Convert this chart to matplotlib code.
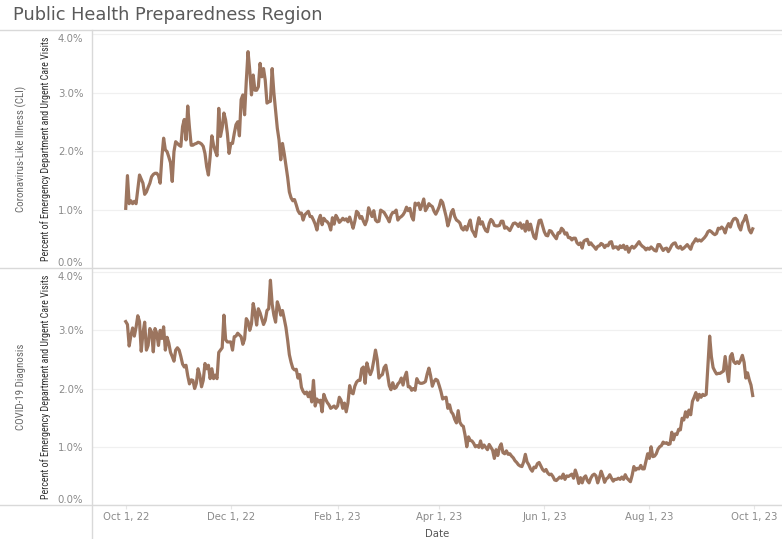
import pandas as pd
import matplotlib.pyplot as plt
import matplotlib.dates as mdates
from matplotlib.lines import Line2D
from matplotlib.ticker import FuncFormatter

# daily percent of ED / urgent care visits, Oct 1 2022 onward
start_date = "2022-10-01"
cli = [
    1.02, 1.58, 1.10, 1.15, 1.10, 1.14, 1.10, 1.35, 1.59, 1.52,
    1.45, 1.26, 1.30, 1.38, 1.45, 1.56, 1.60, 1.62, 1.62, 1.58,
    1.45, 1.90, 2.22, 2.02, 1.99, 1.90, 1.80, 1.48, 1.99, 2.16,
    2.13, 2.10, 2.08, 2.42, 2.54, 2.19, 2.77, 2.40, 2.10, 2.10,
    2.12, 2.13, 2.15, 2.14, 2.12, 2.08, 1.96, 1.73, 1.59, 1.90,
    2.26, 2.10, 2.00, 1.92, 2.73, 2.25, 2.40, 2.65, 2.53, 2.30,
    1.96, 2.13, 2.13, 2.30, 2.45, 2.50, 2.26, 2.88, 2.96, 2.62,
    3.20, 3.70, 3.38, 2.96, 3.30, 3.04, 3.04, 3.10, 3.50, 3.27,
    3.41, 3.21, 2.82, 2.84, 2.85, 3.41, 3.00, 2.70, 2.39, 2.19,
    1.85, 2.13, 1.96, 1.75, 1.55, 1.30, 1.20, 1.15, 1.17, 1.08,
    0.98, 0.93, 0.94, 0.82, 0.91, 0.94, 0.97, 0.88, 0.88, 0.82,
    0.75, 0.65, 0.82, 0.90, 0.74, 0.85, 0.81, 0.79, 0.75, 0.65,
    0.86, 0.75, 0.90, 0.85, 0.78, 0.81, 0.85, 0.82, 0.84, 0.79,
    0.87, 0.78, 0.68, 0.80, 0.97, 0.94, 0.85, 0.88, 0.80, 0.74,
    0.82, 1.03, 0.95, 0.88, 0.98, 0.82, 0.79, 0.80, 0.99, 0.97,
    0.95, 0.90, 0.85, 0.79, 0.90, 0.95, 0.95, 0.99, 0.82, 0.86,
    0.88, 0.91, 0.96, 1.04, 0.98, 1.02, 0.88, 0.82, 1.11, 1.08,
    1.11, 1.00, 1.08, 1.18, 0.98, 1.03, 1.10, 1.07, 1.05, 0.97,
    0.92, 0.98, 1.05, 1.16, 1.12, 1.00, 0.88, 0.72, 0.82, 0.95,
    1.00, 0.88, 0.82, 0.80, 0.77, 0.68, 0.65, 0.71, 0.65, 0.74,
    0.82, 0.65, 0.60, 0.54, 0.72, 0.86, 0.75, 0.79, 0.70, 0.64,
    0.62, 0.76, 0.83, 0.80, 0.73, 0.72, 0.72, 0.73, 0.80, 0.80,
    0.68, 0.70, 0.67, 0.64, 0.70, 0.76, 0.77, 0.75, 0.71, 0.77,
    0.68, 0.74, 0.63, 0.80, 0.65, 0.75, 0.63, 0.53, 0.50, 0.68,
    0.81, 0.82, 0.72, 0.62, 0.56, 0.55, 0.64, 0.63, 0.58, 0.54,
    0.50, 0.60, 0.60, 0.68, 0.65, 0.58, 0.60, 0.52, 0.52, 0.48,
    0.51, 0.51, 0.43, 0.40, 0.43, 0.34, 0.46, 0.48, 0.49, 0.40,
    0.43, 0.39, 0.36, 0.32, 0.37, 0.38, 0.42, 0.40, 0.35, 0.39,
    0.38, 0.44, 0.45, 0.34, 0.36, 0.36, 0.32, 0.38, 0.35, 0.39,
    0.32, 0.37, 0.27, 0.34, 0.37, 0.34, 0.37, 0.41, 0.45, 0.40,
    0.37, 0.35, 0.31, 0.34, 0.32, 0.36, 0.33, 0.30, 0.29, 0.40,
    0.40, 0.35, 0.30, 0.33, 0.34, 0.28, 0.33, 0.39, 0.42, 0.43,
    0.36, 0.34, 0.37, 0.32, 0.34, 0.37, 0.40, 0.36, 0.32, 0.41,
    0.45, 0.50, 0.46, 0.48, 0.46, 0.49, 0.52, 0.56, 0.62, 0.64,
    0.62, 0.59, 0.57, 0.59, 0.68, 0.67, 0.70, 0.67, 0.60, 0.70,
    0.76, 0.70, 0.79, 0.84, 0.85, 0.82, 0.71, 0.65, 0.77, 0.82,
    0.90, 0.78, 0.65, 0.60, 0.67,
]
covid = [
    3.15, 3.10, 2.73, 2.91, 3.04, 2.90, 3.05, 3.25, 3.15, 2.64,
    2.95, 3.14, 2.66, 2.74, 3.03, 2.97, 2.63, 3.03, 2.95, 2.74,
    3.00, 2.86, 3.06, 2.66, 2.88, 2.78, 2.62, 2.55, 2.47, 2.66,
    2.70, 2.66, 2.55, 2.42, 2.37, 2.40, 2.22, 2.08, 2.15, 2.14,
    2.00, 2.09, 2.34, 2.23, 2.03, 2.14, 2.43, 2.34, 2.40, 2.17,
    2.34, 2.17, 2.23, 2.17, 2.62, 2.66, 2.70, 3.26, 2.84, 2.80,
    2.80, 2.80, 2.66, 2.89, 2.90, 2.95, 2.92, 2.89, 2.76, 2.85,
    3.20, 3.15, 3.00, 3.11, 3.46, 3.31, 3.09, 3.37, 3.30, 3.20,
    3.10, 3.17, 3.34, 3.37, 3.86, 3.45, 3.26, 3.14, 3.49, 3.40,
    3.26, 3.34, 3.20, 3.05, 2.83, 2.58, 2.45, 2.35, 2.32, 2.33,
    2.18, 2.24, 2.02, 1.95, 1.91, 1.94, 1.86, 1.94, 1.77, 2.14,
    1.70, 1.82, 1.77, 1.80, 1.60, 1.90, 1.82, 1.76, 1.72, 1.66,
    1.68, 1.70, 1.66, 1.70, 1.85, 1.80, 1.66, 1.75, 1.60, 1.75,
    2.05, 1.93, 1.91, 2.04, 2.11, 2.14, 2.14, 2.34, 2.37, 2.09,
    2.44, 2.32, 2.24, 2.32, 2.48, 2.66, 2.50, 2.18, 2.22, 2.24,
    2.36, 2.40, 2.24, 2.05, 1.98, 2.10, 2.00, 2.02, 2.08, 2.11,
    2.18, 2.06, 2.20, 2.28, 2.03, 2.03, 1.97, 2.00, 1.97, 2.17,
    2.11, 2.09, 2.09, 2.10, 2.12, 2.25, 2.35, 2.22, 2.04, 2.12,
    2.16, 2.14, 2.05, 1.95, 1.82, 1.84, 1.85, 1.66, 1.72, 1.60,
    1.56, 1.47, 1.41, 1.62, 1.42, 1.37, 1.35, 1.20, 1.00, 1.17,
    1.11, 1.10, 1.06, 1.00, 1.02, 0.99, 1.10, 0.98, 1.03, 0.99,
    0.95, 1.04, 0.99, 0.94, 0.80, 0.95, 0.85, 0.99, 1.05, 0.90,
    0.88, 0.93, 0.87, 0.88, 0.84, 0.81, 0.76, 0.73, 0.69, 0.67,
    0.66, 0.74, 0.87, 0.74, 0.69, 0.62, 0.58, 0.65, 0.64, 0.71,
    0.73, 0.67, 0.61, 0.58, 0.61, 0.55, 0.52, 0.53, 0.49, 0.43,
    0.42, 0.45, 0.48, 0.46, 0.53, 0.44, 0.50, 0.49, 0.51, 0.53,
    0.46, 0.60, 0.51, 0.37, 0.47, 0.38, 0.47, 0.50, 0.42, 0.38,
    0.46, 0.51, 0.53, 0.50, 0.38, 0.47, 0.58, 0.50, 0.39, 0.45,
    0.47, 0.52, 0.46, 0.41, 0.44, 0.44, 0.46, 0.44, 0.48, 0.44,
    0.52, 0.46, 0.43, 0.40, 0.51, 0.66, 0.60, 0.63, 0.62, 0.68,
    0.62, 0.62, 0.75, 0.88, 0.80, 1.00, 0.83, 0.84, 0.88, 0.96,
    1.00, 1.02, 1.08, 1.06, 1.07, 1.04, 1.05, 1.25, 1.12, 1.22,
    1.21, 1.30, 1.29, 1.49, 1.46, 1.60, 1.51, 1.63, 1.55, 1.78,
    1.85, 1.93, 1.80, 1.90, 1.85, 1.90, 1.88, 1.90, 2.40, 2.90,
    2.55, 2.36, 2.30, 2.25, 2.26, 2.26, 2.28, 2.30, 2.55, 2.32,
    2.12, 2.55, 2.60, 2.46, 2.43, 2.46, 2.43, 2.49, 2.57, 2.45,
    2.18, 2.27, 2.15, 2.06, 1.88,
]
row_labels = ["Coronavirus-Like Illness (CLI)", "COVID-19 Diagnosis"]
axis_title = "Percent of Emergency Department and Urgent Care Visits"
y_ticks = [0, 1, 2, 3, 4]
x_ticks = ["2022-10-01", "2022-12-01", "2023-02-01", "2023-04-01",
           "2023-06-01", "2023-08-01", "2023-10-01"]

W, H = 782, 539
fig = plt.figure(figsize=(W / 100, H / 100), dpi=100)
fig.patch.set_facecolor("white")

def fx(px):
    return px / W

def fy(py):
    return 1 - py / H

line_color = "#9c755f"
border_color = "#d9d9d9"
narrow = ["Roboto Condensed", "Barlow Condensed", "Archivo Narrow", "DejaVu Sans"]

panel_tops = [30, 268]
panel_bottoms = [268, 505]
series = [cli, covid]

for i in range(2):
    dates = pd.date_range(start_date, periods=len(series[i]), freq="D")
    ax = fig.add_axes([fx(93), fy(panel_bottoms[i]), fx(782) - fx(93),
                       (panel_bottoms[i] - panel_tops[i]) / H])
    ax.plot(dates, series[i], color=line_color, lw=2.3, solid_joinstyle="round")
    ax.set_ylim(0, 4.07)
    ax.set_xlim(pd.Timestamp("2022-09-12"), pd.Timestamp("2023-10-17"))
    for s in ax.spines.values():
        s.set_visible(False)
    ax.set_yticks(y_ticks)
    ax.yaxis.set_major_formatter(FuncFormatter(lambda v, p: f"{v:.1f}%"))
    ax.tick_params(axis="y", length=0, pad=7, labelsize=7.3, labelcolor="#8a8a8a")
    labels = ax.get_yticklabels()
    labels[0].set_verticalalignment("bottom")
    labels[-1].set_verticalalignment("top")
    ax.grid(axis="y", color="#f0f0f0", lw=0.9)
    ax.set_axisbelow(True)
    ax.set_xticks(pd.to_datetime(x_ticks))
    ax.xaxis.set_major_formatter(mdates.DateFormatter("%b %-d, %y"))
    if i == 0:
        ax.tick_params(axis="x", length=0, labelbottom=False)
    else:
        ax.tick_params(axis="x", length=3, color="#e6e6e6", pad=2,
                       labelsize=7.3, labelcolor="#8a8a8a")
        ax.set_xlabel("Date", fontsize=7.3, color="#555555", labelpad=5)

    mid = 1 - (panel_tops[i] + panel_bottoms[i]) / 2 / H
    fig.text(fx(21), mid, row_labels[i], rotation=90, ha="center", va="center",
             fontsize=7.8, color="#666666", family=narrow)
    fig.text(fx(46), mid, axis_title, rotation=90, ha="center", va="center",
             fontsize=7.2, color="#2e2e2e", family=narrow)

# table borders
for py in [30, 268, 505]:
    fig.add_artist(Line2D([0, 1], [fy(py), fy(py)], color=border_color, lw=1))
fig.add_artist(Line2D([fx(92), fx(92)], [0, fy(30)], color=border_color, lw=1))

fig.text(fx(13), fy(15), "Public Health Preparedness Region", ha="left",
         va="center", fontsize=12.8, color="#5a5a5a")

fig.savefig("out.png", dpi=100)
